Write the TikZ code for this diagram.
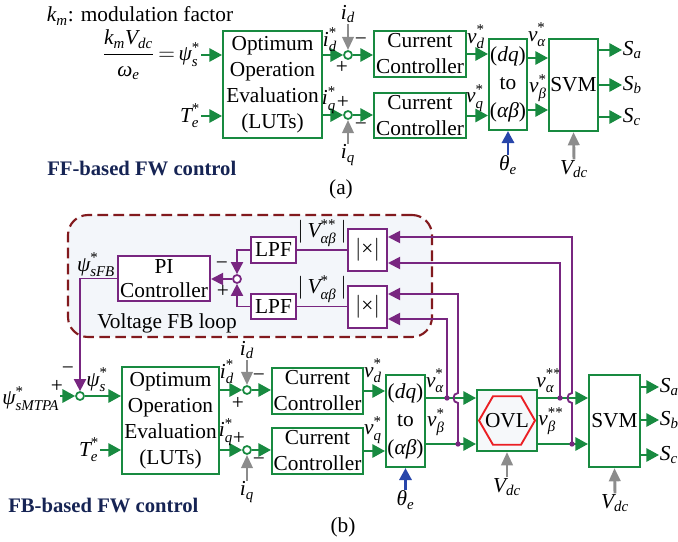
\documentclass[tikz,border=0pt]{standalone}
\usepackage{fontspec}
\usepackage{amsmath}
\setmainfont{Liberation Serif}
\usetikzlibrary{arrows.meta,shapes.geometric}
\definecolor{gC}{RGB}{24,138,64}
\definecolor{pC}{RGB}{120,38,128}
\definecolor{grC}{RGB}{140,140,140}
\definecolor{bC}{RGB}{40,70,170}
\definecolor{rdC}{RGB}{130,26,30}
\definecolor{nvC}{RGB}{22,36,84}
\definecolor{hxC}{RGB}{235,30,35}
\definecolor{fbC}{RGB}{243,246,250}
\definecolor{ovC}{RGB}{246,248,250}
\newcommand\bigf{\fontsize{16}{19.5}\selectfont}
\newcommand\I[1]{\textit{#1}}
\tikzset{
  wh/.style 2 args={minimum width=#1*0.75pt, minimum height=#2*0.75pt},
  gbox/.style={draw=gC, line width=1.5pt, fill=white, inner sep=0pt, align=center},
  pbox/.style={draw=pC, line width=1.5pt, fill=white, inner sep=0pt, align=center},
  garr/.style={draw=gC, line width=1.5pt, -{Triangle[length=9.5pt,width=10pt]}},
  parr/.style={draw=pC, line width=1.4pt, -{Triangle[length=9pt,width=9pt]}},
  pln/.style={draw=pC, line width=1.4pt},
  grarr/.style={draw=grC, line width=2.2pt, -{Triangle[length=10pt,width=8.5pt]}},
  barr/.style={draw=bC, line width=2.2pt, -{Triangle[length=9pt,width=9pt]}},
  sumg/.style={circle, draw=gC, line width=1.3pt, fill=white, minimum size=6pt, inner sep=0pt},
  sump/.style={circle, draw=pC, line width=1.3pt, fill=white, minimum size=6pt, inner sep=0pt},
  pdot/.style={circle, fill=pC, minimum size=4pt, inner sep=0pt},
  lbl/.style={inner sep=0.5pt},
  ttl/.style={inner sep=0pt, font=\fontsize{15.5}{18}\selectfont\bfseries, text=nvC}
}
\begin{document}
\begin{tikzpicture}[x=0.75pt,y=-0.75pt,font=\bigf]
\useasboundingbox (0,0) rectangle (678,542);
% ================= (a) =================
\node[lbl,anchor=west] (kmlbl) at (46,16) {$\I{k}_{\I{m}}$: modulation factor};
\coordinate (psiIn) at (201,55);
\node[lbl,anchor=east] (fraclbl) at (psiIn) {$\dfrac{\I{k}_{\I{m}}\I{V}_{\I{dc}}}{\I{ω}_{\I{e}}}\,{=}\,\I{ψ}^{\text{*}}_{\I{s}}$};
\coordinate (teIn) at (201,116);
\node[lbl,anchor=east] (tea) at (teIn) {$\I{T}^{\text{*}}_{\I{e}}$};
\node[gbox, wh={99}{107}] (OOEa) at (272.5,84.5) {Optimum\\Operation\\Evaluation\\(LUTs)};
\draw[garr] (psiIn) -- (OOEa.west |- psiIn);
\draw[garr] (teIn) -- (OOEa.west |- teIn);
\node[sumg] (sa1) at (348,55) {};
\node[sumg] (sa2) at (348,115) {};
\node[gbox, wh={92}{46}] (CCa1) at (420,54) {Current\\Controller};
\node[gbox, wh={92}{45}] (CCa2) at (420,115.5) {Current\\Controller};
\draw[garr] (OOEa.east |- sa1) -- (sa1);
\draw[garr] (sa1) -- (CCa1.west |- sa1);
\draw[garr] (OOEa.east |- sa2) -- (sa2);
\draw[garr] (sa2) -- (CCa2.west |- sa2);
\node[lbl] (idLa) at (348,14) {$\I{i}_{\I{d}}$};
\node[lbl] (iqLa) at (348,155) {$\I{i}_{\I{q}}$};
\draw[grarr] (idLa.south) -- (sa1);
\draw[grarr] (iqLa.north) -- (sa2);
\node[lbl] (ma1) at (361,42) {−};
\node[lbl] (pa1) at (342,67) {+};
\node[lbl] (pa2) at (343,102) {+};
\node[lbl] (ma2) at (361,127) {−};
\node[lbl] (idsa) at (330,40) {$\I{i}^{\text{*}}_{\I{d}}$};
\node[lbl] (iqsa) at (329,100) {$\I{i}^{\text{*}}_{\I{q}}$};
\node[gbox, wh={38}{91}, font=\fontsize{16}{21}\selectfont] (DQa) at (508,84.5) {(\I{dq})\\to\\(\I{αβ})};
\draw[garr] (CCa1.east) -- (DQa.west |- CCa1.east);
\draw[garr] (CCa2.east) -- (DQa.west |- CCa2.east);
\node[lbl] (vdsa) at (476,37) {$\I{v}^{\text{*}}_{\I{d}}$};
\node[lbl] (vqsa) at (475,98) {$\I{v}^{\text{*}}_{\I{q}}$};
\node[gbox, wh={49}{92}] (SVMa) at (573.5,85) {SVM};
\coordinate (yaA) at (0,58);
\coordinate (yaB) at (0,110);
\draw[garr] (DQa.east |- yaA) -- (SVMa.west |- yaA);
\draw[garr] (DQa.east |- yaB) -- (SVMa.west |- yaB);
\node[lbl] (vala) at (537,35) {$\I{v}^{\text{*}}_{\I{α}}$};
\node[lbl] (vbea) at (538,88) {$\I{v}^{\text{*}}_{\I{β}}$};
\coordinate (Saa) at (622,50);
\coordinate (Sba) at (622,85);
\coordinate (Sca) at (622,117);
\draw[garr] (SVMa.east |- Saa) -- (Saa);
\draw[garr] (SVMa.east |- Sba) -- (Sba);
\draw[garr] (SVMa.east |- Sca) -- (Sca);
\node[lbl,anchor=west] (SaLa) at (Saa) {$\I{S}_{\I{a}}$};
\node[lbl,anchor=west] (SbLa) at (Sba) {$\I{S}_{\I{b}}$};
\node[lbl,anchor=west] (ScLa) at (Sca) {$\I{S}_{\I{c}}$};
\node[lbl] (thA) at (508,165) {$\I{θ}_{\I{e}}$};
\draw[barr] (thA.north) -- (DQa.south);
\node[lbl] (vdcA) at (574,169) {$\I{V}_{\I{dc}}$};
\draw[grarr] (vdcA.north) -- (SVMa.south);
\node[ttl,anchor=west] (ttlA) at (47,168) {FF-based FW control};
\node[lbl] (capA) at (341,189) {(a)};
% ================= (b) =================
\node[draw=rdC, line width=1.6pt, dash pattern=on 8pt off 4pt, fill=fbC, rounded corners=15pt, wh={364}{122}] (fbloop) at (250,276) {};
\node[lbl] (vfbl) at (167,323) {Voltage FB loop};
\node[pbox, wh={92}{45}, font=\fontsize{16}{18}\selectfont] (PI) at (164,278.5) {PI\\Controller};
\node[pbox, wh={45}{26}] (LPF1) at (273.5,250) {LPF};
\node[pbox, wh={45}{25}] (LPF2) at (273.5,306.5) {LPF};
\node[pbox, wh={39}{42}] (ABS1) at (367.5,250) {$|$×$|$};
\node[pbox, wh={39}{42}] (ABS2) at (367.5,307) {$|$×$|$};
\node[sump] (sfb) at (237,279) {};
\draw[parr] (LPF1.west) -| (sfb);
\draw[parr] (LPF2.west) -| (sfb);
\draw[parr] (sfb) -- (PI.east |- sfb);
\draw[pln] (LPF1.east) -- (ABS1.west |- LPF1.east);
\draw[pln] (LPF2.east) -- (ABS2.west |- LPF2.east);
\node[lbl] (V2l) at (322,233) {$|\,\I{V}^{\text{**}}_{\I{αβ}}\,|$};
\node[lbl] (V1l) at (322,289) {$|\,\I{V}^{\text{*}}_{\I{αβ}}\,|$};
\node[lbl] (mfb) at (222,266) {−};
\node[lbl] (pfb) at (223,291) {+};
\node[lbl] (psifb) at (96,265) {$\I{ψ}^{\text{*}}_{\I{sFB}}$};
% main row
\node[sumg] (s0) at (80,396) {};
\draw[parr] (PI.west) -| (s0);
\coordinate (mtpaIn) at (60,396);
\node[lbl,anchor=east] (mtpal) at ([yshift=-2pt]mtpaIn) {$\I{ψ}^{\text{*}}_{\I{sMTPA}}$};
\draw[garr] (mtpaIn) -- (s0);
\node[lbl] (p0) at (57,386) {+};
\node[lbl] (m0) at (68,371) {−};
\node[lbl] (psisb) at (97,380) {$\I{ψ}^{\text{*}}_{\I{s}}$};
\node[gbox, wh={97}{107}] (OOEb) at (170.5,420.5) {Optimum\\Operation\\Evaluation\\(LUTs)};
\draw[garr] (s0) -- (OOEb.west |- s0);
\coordinate (teInB) at (100,450);
\node[lbl,anchor=east] (teb) at (teInB) {$\I{T}^{\text{*}}_{\I{e}}$};
\draw[garr] (teInB) -- (OOEb.west |- teInB);
\node[sumg] (s1) at (247,390) {};
\node[sumg] (s2) at (247,450) {};
\node[gbox, wh={91}{46}] (CCb1) at (317.5,391) {Current\\Controller};
\node[gbox, wh={91}{46}] (CCb2) at (317.5,451) {Current\\Controller};
\draw[garr] (OOEb.east |- s1) -- (s1);
\draw[garr] (s1) -- (CCb1.west |- s1);
\draw[garr] (OOEb.east |- s2) -- (s2);
\draw[garr] (s2) -- (CCb2.west |- s2);
\node[lbl] (idLb) at (247,350) {$\I{i}_{\I{d}}$};
\node[lbl] (iqLb) at (247,492) {$\I{i}_{\I{q}}$};
\draw[grarr] (idLb.south) -- (s1);
\draw[grarr] (iqLb.north) -- (s2);
\node[lbl] (idsb) at (227,372) {$\I{i}^{\text{*}}_{\I{d}}$};
\node[lbl] (iqsb) at (226,432) {$\I{i}^{\text{*}}_{\I{q}}$};
\node[lbl] (mb1) at (259,378) {−};
\node[lbl] (pb1) at (238,403) {+};
\node[lbl] (pb2) at (239,438) {+};
\node[lbl] (mb2) at (259,462) {−};
\node[gbox, wh={39}{92}, font=\fontsize{16}{21}\selectfont] (DQb) at (405.5,421) {(\I{dq})\\to\\(\I{αβ})};
\draw[garr] (CCb1.east) -- (DQb.west |- CCb1.east);
\draw[garr] (CCb2.east) -- (DQb.west |- CCb2.east);
\node[lbl] (vdsb) at (373,371) {$\I{v}^{\text{*}}_{\I{d}}$};
\node[lbl] (vqsb) at (373,430) {$\I{v}^{\text{*}}_{\I{q}}$};
\node[gbox, fill=ovC, wh={60}{61}] (OVL) at (507,420.5) {};
\node[regular polygon, regular polygon sides=6, draw=hxC, line width=1.4pt, minimum size=56*0.75pt, inner sep=0pt] (hex) at (OVL.center) {};
\node[lbl] (ovltxt) at (OVL.center) {OVL};
\node[gbox, wh={51}{92}] (SVMb) at (614.5,421) {SVM};
\coordinate (ybA) at (0,398);
\coordinate (ybB) at (0,444);
\draw[garr] (DQb.east |- ybA) -- (OVL.west |- ybA);
\draw[garr] (DQb.east |- ybB) -- (OVL.west |- ybB);
\draw[garr] (OVL.east |- ybA) -- (SVMb.west |- ybA);
\draw[garr] (OVL.east |- ybB) -- (SVMb.west |- ybB);
\node[lbl] (valb) at (435,381) {$\I{v}^{\text{*}}_{\I{α}}$};
\node[lbl] (vbeb) at (436,422) {$\I{v}^{\text{*}}_{\I{β}}$};
\node[lbl] (valb2) at (549,381) {$\I{v}^{\text{**}}_{\I{α}}$};
\node[lbl] (vbeb2) at (551,421) {$\I{v}^{\text{**}}_{\I{β}}$};
\coordinate (Sab) at (659,387);
\coordinate (Sbb) at (659,420);
\coordinate (Scb) at (659,455);
\draw[garr] (SVMb.east |- Sab) -- (Sab);
\draw[garr] (SVMb.east |- Sbb) -- (Sbb);
\draw[garr] (SVMb.east |- Scb) -- (Scb);
\node[lbl,anchor=west] (SaLb) at (Sab) {$\I{S}_{\I{a}}$};
\node[lbl,anchor=west] (SbLb) at (Sbb) {$\I{S}_{\I{b}}$};
\node[lbl,anchor=west] (ScLb) at (Scb) {$\I{S}_{\I{c}}$};
\node[lbl] (thB) at (405.5,500) {$\I{θ}_{\I{e}}$};
\draw[barr] (thB.north) -- (DQb.south);
\node[lbl] (vdcO) at (507,487) {$\I{V}_{\I{dc}}$};
\draw[grarr] (vdcO.north) -- (OVL.south);
\node[lbl] (vdcS) at (615,503) {$\I{V}_{\I{dc}}$};
\draw[grarr] (vdcS.north) -- (SVMb.south);
% purple feedback taps
\node[pdot] (dA1) at (447,398) {};
\node[pdot] (dB1) at (458,444) {};
\node[pdot] (dA2) at (560,398) {};
\node[pdot] (dB2) at (572,444) {};
\coordinate (yi1) at (0,237);
\coordinate (yi2) at (0,263);
\coordinate (yi3) at (0,294);
\coordinate (yi4) at (0,319);
\draw[parr] (dA1.center) |- (ABS2.east |- yi4);
\draw[parr] (dB1.center) -- (458,403) .. controls (452,403) and (452,393) .. (458,393) |- (ABS2.east |- yi3);
\draw[parr] (dA2.center) |- (ABS1.east |- yi2);
\draw[parr] (dB2.center) -- (572,403) .. controls (566,403) and (566,393) .. (572,393) |- (ABS1.east |- yi1);
\node[ttl,anchor=west] (ttlB) at (8,505) {FB-based FW control};
\node[lbl] (capB) at (343,527) {(b)};
\end{tikzpicture}
\end{document}
